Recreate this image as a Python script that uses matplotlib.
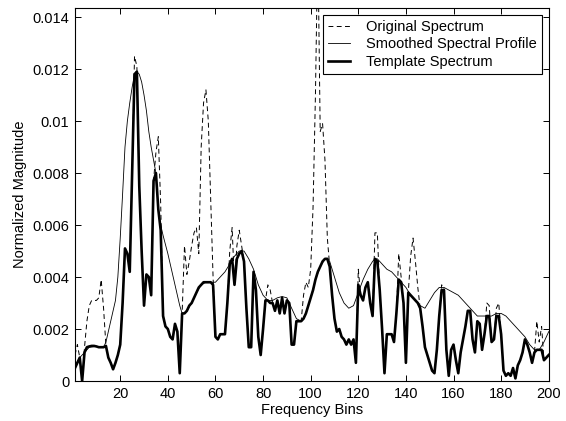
import matplotlib
matplotlib.use("Agg")
import matplotlib.pyplot as plt
from matplotlib.ticker import FuncFormatter

plt.rcParams["font.family"] = ["Liberation Sans", "DejaVu Sans"]

# template spectrum, one value per bin 1..200
bins = list(range(1, 201))
template = [
    0.0005, 0.0007, 0.0009, 0.0000, 0.0011, 0.0013, 0.00133, 0.00135, 0.00135, 0.00133,
    0.0013, 0.0013, 0.0013, 0.00135, 0.0009, 0.0007, 0.00045, 0.0007, 0.0010, 0.0014,
    0.0030, 0.0051, 0.0049, 0.0042, 0.0080, 0.0118, 0.0119, 0.0075, 0.0050, 0.0029,
    0.0041, 0.0040, 0.0033, 0.0077, 0.0080, 0.0066, 0.0058, 0.0025, 0.0021, 0.0020,
    0.0017, 0.0016, 0.0022, 0.0019, 0.0003, 0.0026, 0.0026, 0.0027, 0.0029, 0.0030,
    0.0032, 0.0034, 0.0036, 0.0037, 0.0038, 0.0038, 0.0038, 0.0038, 0.0037, 0.0017,
    0.0016, 0.0018, 0.0018, 0.0018, 0.0030, 0.0045, 0.0047, 0.0037, 0.0047, 0.0049,
    0.0050, 0.0046, 0.0028, 0.0013, 0.0013, 0.0042, 0.0035, 0.0017, 0.0010, 0.0020,
    0.0031, 0.0031, 0.0030, 0.0030, 0.0027, 0.0031, 0.0026, 0.0032, 0.0026, 0.0031,
    0.0030, 0.0014, 0.0014, 0.0023, 0.0023, 0.0023, 0.0024, 0.0026, 0.0029, 0.0032,
    0.0035, 0.0039, 0.0042, 0.0044, 0.0046, 0.0047, 0.0047, 0.0044, 0.0033, 0.0024,
    0.0019, 0.0020, 0.0017, 0.0016, 0.0014, 0.0016, 0.0014, 0.0016, 0.0007, 0.0037,
    0.0033, 0.0031, 0.0036, 0.0038, 0.0030, 0.0025, 0.0047, 0.0046, 0.0035, 0.0020,
    0.0003, 0.0018, 0.0018, 0.0018, 0.0015, 0.0026, 0.0039, 0.0038, 0.0030, 0.0007,
    0.0034, 0.0033, 0.0032, 0.0031, 0.0030, 0.0028, 0.0021, 0.0013, 0.0010, 0.0007,
    0.0004, 0.0003, 0.0012, 0.0025, 0.0035, 0.0035, 0.0012, 0.0002, 0.0012, 0.0014,
    0.0008, 0.0003, 0.0011, 0.0016, 0.0021, 0.0027, 0.0027, 0.0016, 0.0011, 0.0023,
    0.0022, 0.0012, 0.0018, 0.0025, 0.0025, 0.0015, 0.0016, 0.0025, 0.0025, 0.0018,
    0.0004, 0.0002, 0.0003, 0.0002, 0.0005, 0.0001, 0.0006, 0.0008, 0.0011, 0.0016,
    0.0014, 0.0011, 0.0007, 0.0011, 0.0012, 0.0012, 0.0012, 0.0008, 0.0009, 0.0010,
]

# original spectrum, one value per bin 1..200
original = [
    0.0010, 0.0014, 0.0009, 0.0000, 0.0013, 0.0023, 0.0029, 0.0031, 0.0031, 0.0031,
    0.0032, 0.0039, 0.0028, 0.00135, 0.0009, 0.0007, 0.00045, 0.0007, 0.0010, 0.0014,
    0.0030, 0.0051, 0.0049, 0.0042, 0.0080, 0.0125, 0.0121, 0.0075, 0.0050, 0.0029,
    0.0041, 0.0040, 0.0033, 0.0077, 0.0088, 0.0094, 0.0068, 0.0025, 0.0021, 0.0020,
    0.0017, 0.0016, 0.0022, 0.0019, 0.0003, 0.0026, 0.0052, 0.0041, 0.0046, 0.0052,
    0.0057, 0.0059, 0.0049, 0.0090, 0.0107, 0.0112, 0.0100, 0.0070, 0.0040, 0.0017,
    0.0016, 0.0018, 0.0018, 0.0018, 0.0030, 0.0050, 0.0059, 0.0037, 0.0052, 0.0058,
    0.0052, 0.0046, 0.0028, 0.0013, 0.0013, 0.0042, 0.0035, 0.0017, 0.0010, 0.0020,
    0.0031, 0.0037, 0.0035, 0.0030, 0.0027, 0.0031, 0.0026, 0.0032, 0.0026, 0.0031,
    0.0030, 0.0014, 0.0014, 0.0023, 0.0023, 0.0023, 0.0033, 0.0038, 0.0036, 0.0043,
    0.0067, 0.0110, 0.0170, 0.0096, 0.0099, 0.0085, 0.0055, 0.0044, 0.0033, 0.0024,
    0.0019, 0.0020, 0.0017, 0.0016, 0.0014, 0.0016, 0.0014, 0.0016, 0.0007, 0.0043,
    0.0033, 0.0031, 0.0036, 0.0038, 0.0030, 0.0025, 0.0057, 0.0057, 0.0035, 0.0020,
    0.0003, 0.0018, 0.0018, 0.0018, 0.0015, 0.0026, 0.0049, 0.0040, 0.0030, 0.0007,
    0.0034, 0.0048, 0.0055, 0.0046, 0.0036, 0.0028, 0.0021, 0.0013, 0.0010, 0.0007,
    0.0004, 0.0003, 0.0012, 0.0025, 0.0037, 0.0036, 0.0012, 0.0002, 0.0012, 0.0014,
    0.0008, 0.0003, 0.0011, 0.0016, 0.0021, 0.0027, 0.0027, 0.0016, 0.0011, 0.0023,
    0.0022, 0.0012, 0.0018, 0.0030, 0.0029, 0.0015, 0.0016, 0.0028, 0.0030, 0.0018,
    0.0004, 0.0002, 0.0003, 0.0002, 0.0005, 0.0001, 0.0006, 0.0008, 0.0011, 0.0016,
    0.0014, 0.0011, 0.0007, 0.0011, 0.0023, 0.0015, 0.0021, 0.0008, 0.0009, 0.0010,
]

# smoothed spectral profile, read at these bins
smooth_bins = [1, 3, 5, 7, 10, 13, 14, 16, 18, 19, 20, 21, 22, 23, 24, 25, 26, 27, 28,
               29, 30, 31, 32, 33, 34, 35, 36, 37, 38, 40, 42, 44, 45, 46, 47, 48, 50,
               52, 54, 56, 58, 60, 62, 64, 66, 68, 70, 71, 72, 74, 76, 78, 80, 82, 84,
               86, 88, 90, 92, 94, 96, 98, 100, 102, 104, 106, 107, 108, 110, 112, 114,
               116, 118, 120, 122, 124, 126, 127, 128, 130, 132, 134, 136, 138, 140,
               142, 144, 146, 148, 150, 152, 154, 156, 158, 160, 162, 164, 166, 168,
               170, 172, 174, 176, 178, 180, 182, 184, 186, 188, 190, 192, 194, 196,
               198, 200]
smoothed = [0.0006, 0.0009, 0.0011, 0.0013, 0.00133, 0.0013, 0.0015, 0.0023, 0.0031,
            0.0040, 0.0055, 0.0072, 0.0090, 0.0100, 0.0107, 0.0113, 0.0118, 0.0119,
            0.0118, 0.0115, 0.0110, 0.0104, 0.0096, 0.0090, 0.0085, 0.0080, 0.0066,
            0.0060, 0.0056, 0.0049, 0.0041, 0.0033, 0.0029, 0.0026, 0.0026, 0.0027,
            0.0030, 0.0034, 0.0037, 0.0038, 0.0038, 0.0038, 0.0040, 0.0042, 0.0045,
            0.0048, 0.0050, 0.0050, 0.0050, 0.0047, 0.0043, 0.0037, 0.0033, 0.0031,
            0.0031, 0.0032, 0.00325, 0.0032, 0.0028, 0.0024, 0.0023, 0.0026, 0.0032,
            0.0039, 0.0044, 0.0047, 0.0047, 0.0046, 0.0040, 0.0034, 0.0030, 0.0028,
            0.0029, 0.0034, 0.0039, 0.0043, 0.0046, 0.0047, 0.0047, 0.0045, 0.0043,
            0.0042, 0.0040, 0.0038, 0.0036, 0.0033, 0.0031, 0.0029, 0.0028, 0.0031,
            0.0034, 0.0036, 0.0036, 0.0035, 0.0034, 0.0033, 0.0031, 0.0029, 0.0027,
            0.0025, 0.0025, 0.0025, 0.0025, 0.0026, 0.0026, 0.0025, 0.0023, 0.0021,
            0.0019, 0.0017, 0.0014, 0.0012, 0.0012, 0.0015, 0.0019]

fig = plt.figure(figsize=(5.66, 4.21), dpi=100)
ax = fig.add_axes([0.1325, 0.095, 0.837, 0.886])

ax.plot(bins, original, color="black", lw=0.7, ls=(0, (5, 3.5)), label="Original Spectrum")
ax.plot(smooth_bins, smoothed, color="black", lw=0.6, label="Smoothed Spectral Profile")
ax.plot(bins, template, color="black", lw=1.9, label="Template Spectrum")

ax.set_xlim(1, 200)
ax.set_ylim(0, 0.01435)
ax.set_xticks(range(20, 201, 20))
ax.set_yticks([0, 0.002, 0.004, 0.006, 0.008, 0.01, 0.012, 0.014])
ax.yaxis.set_major_formatter(FuncFormatter(lambda v, p: f"{round(v, 4):g}"))
ax.tick_params(direction="in", top=True, right=True, length=4, width=0.7,
               labelsize=10.5, pad=4)
for s in ax.spines.values():
    s.set_linewidth(0.8)
ax.set_xlabel("Frequency Bins", fontsize=10.5, labelpad=2)
ax.set_ylabel("Normalized Magnitude", fontsize=10.5, labelpad=4)

leg = ax.legend(loc="upper right", fontsize=10.5, frameon=True, fancybox=False,
                edgecolor="black", framealpha=1, borderpad=0.35, labelspacing=0.25,
                handlelength=1.5, handletextpad=1.1, borderaxespad=0.45)
leg.get_frame().set_linewidth(0.8)

fig.savefig("out.png", dpi=100)
